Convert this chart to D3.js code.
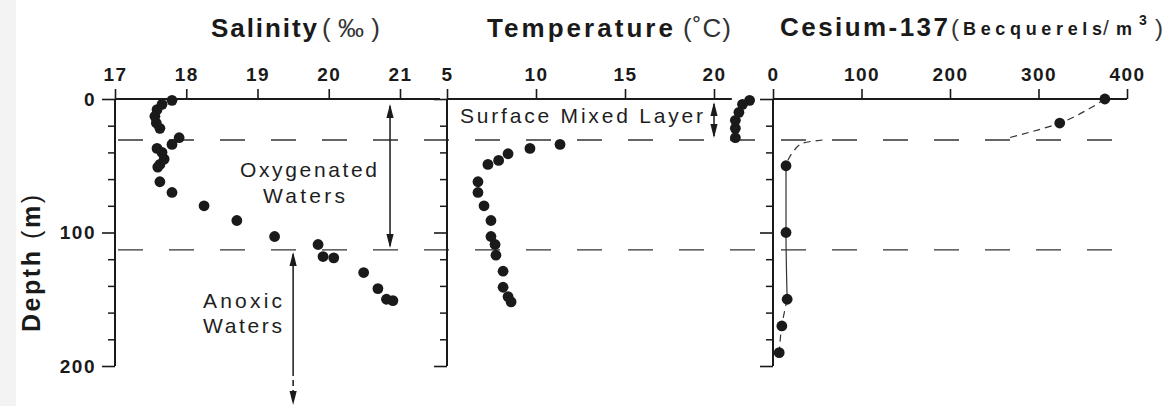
<!DOCTYPE html>
<html><head><meta charset="utf-8">
<script src="https://cdn.jsdelivr.net/npm/d3@7"></script>
<style>body{margin:0;background:#fff}svg{display:block}</style>
</head><body><svg id="c" width="1169" height="406"></svg>
<script>
// ---- data (depth in m, value) ----
const salinity = [[1,17.80],[4,17.66],[8,17.59],[13,17.56],[18,17.58],[22,17.63],[29,17.90],[34,17.80],[37,17.59],[40,17.66],[45,17.69],[49,17.63],[51,17.60],[62,17.63],[70,17.80],[80,18.25],[91,18.71],[103,19.24],[109,19.85],[118,19.92],[119,20.07],[130,20.49],[142,20.69],[150,20.81],[151,20.90]];
const temperature = [[1,22.0],[4,21.6],[10,21.4],[16,21.2],[22,21.2],[29,21.2],[34,11.35],[37,9.66],[41,8.43],[46,7.9],[49,7.3],[62,6.74],[70,6.74],[80,7.08],[91,7.47],[103,7.47],[109,7.7],[117,7.75],[129,8.15],[141,8.15],[148,8.43],[152,8.6]];
const cesium = [[0,375],[18,324],[50,14.7],[100,14.7],[150,16],[170,10],[190,7]];
const cesiumFitTop = [[0,375],[7,358],[18,324],[29,267]];
const cesiumFitKnee = [[30.7,56],[33,34],[39.7,22.6],[45.7,17],[50,14.7]];
const cesiumFitMid = [[50,14.7],[100,14.7],[150,16]];
const cesiumFitLow = [[150,16],[170,10],[190,7]];
const salTicks = [17,18,19,20,21];
const tempTicks = [5,10,15,20];
const csTicks = [0,100,200,300,400];
const depthTicks = [0,100,200];
const depthMinor = [20,40,60,80,120,140,160,180];
const layerBounds = [30.7,113];

const svg = d3.select('#c');
const ink = '#1a1a1a';
const FONT = '"Liberation Sans", Arial, Helvetica, sans-serif';
svg.append('rect').attr('width',1169).attr('height',406).attr('fill','#fff');
svg.append('rect').attr('width',16).attr('height',406).attr('fill','#f3f3f3');

const y = d3.scaleLinear().domain([0,200]).range([99,366]);
const xS = d3.scaleLinear().domain([17,21]).range([115,400]);
const xT = d3.scaleLinear().domain([5,20]).range([447,714]);
const xC = d3.scaleLinear().domain([0,400]).range([773,1127]);

const panels = [
  {x:xS, ticks:salTicks, end:21.56, labels:true},
  {x:xT, ticks:tempTicks, end:21.0, labels:false},
  {x:xC, ticks:csTicks, end:400, labels:false}
];

// dashed layer boundaries
layerBounds.forEach(d=>{
  svg.append('line').attr('x1',118).attr('x2',1118).attr('y1',y(d)).attr('y2',y(d))
    .attr('stroke','#333').attr('stroke-width',1.3).attr('stroke-dasharray','25 26');
});

panels.forEach(p=>{
  const x0 = p.x.range()[0];
  const gt = svg.append('g').attr('transform',`translate(0,${y(0)})`)
    .call(d3.axisTop(p.x).tickValues(p.ticks).tickSize(10).tickPadding(8).tickFormat(d3.format('d')));
  gt.select('.domain').remove();
  gt.selectAll('line').attr('stroke',ink).attr('stroke-width',1.6);
  gt.selectAll('text').attr('fill',ink).style('font-family',FONT).style('font-weight','bold')
    .style('font-size','19px').style('letter-spacing','1.5px');
  svg.append('line').attr('x1',x0).attr('x2',p.x(p.end)).attr('y1',y(0)).attr('y2',y(0))
    .attr('stroke',ink).attr('stroke-width',2);
  const gl = svg.append('g').attr('transform',`translate(${x0},0)`)
    .call(d3.axisLeft(y).tickValues(depthTicks).tickSize(13).tickPadding(6)
      .tickFormat(p.labels ? d3.format('d') : ''));
  gl.select('.domain').remove();
  gl.selectAll('line').attr('stroke',ink).attr('stroke-width',1.6);
  gl.selectAll('text').attr('fill',ink).style('font-family',FONT).style('font-weight','bold')
    .style('font-size','19px').style('letter-spacing','1.5px');
  const gm = svg.append('g').attr('transform',`translate(${x0},0)`)
    .call(d3.axisLeft(y).tickValues(depthMinor).tickSize(7).tickFormat(''));
  gm.select('.domain').remove();
  gm.selectAll('line').attr('stroke',ink).attr('stroke-width',1.5);
  svg.append('line').attr('x1',x0).attr('x2',x0).attr('y1',y(0)).attr('y2',y(200))
    .attr('stroke',ink).attr('stroke-width',2);
});

// cesium fit curve
const cl = d3.line().x(d=>xC(d[1])).y(d=>y(d[0])).curve(d3.curveMonotoneY);
[[cesiumFitTop,'7 5'],[cesiumFitKnee,'7 5'],[cesiumFitMid,null],[cesiumFitLow,'7 5']].forEach(([pts,da])=>{
  svg.append('path').attr('d',cl(pts)).attr('fill','none').attr('stroke','#333')
    .attr('stroke-width',1.2).attr('stroke-dasharray',da);
});

// points
function dots(data,x){
  svg.append('g').selectAll('circle').data(data).join('circle')
    .attr('cx',d=>x(d[1])).attr('cy',d=>y(d[0])).attr('r',5.4).attr('fill',ink);
}
dots(salinity,xS); dots(temperature,xT); dots(cesium,xC);

// arrows
function head(x,tipY,dir){ // dir 1 = pointing down, -1 = up
  const L=14,w=3.6;
  svg.append('path').attr('d',`M${x},${tipY} L${x-w},${tipY-dir*L} L${x+w},${tipY-dir*L} Z`).attr('fill',ink);
}
function vline(x,y1,y2,dash){
  svg.append('line').attr('x1',x).attr('x2',x).attr('y1',y1).attr('y2',y2)
    .attr('stroke',ink).attr('stroke-width',1.5).attr('stroke-dasharray',dash||null);
}
const ox = xS(20.86);
vline(ox,106,246); head(ox,104,-1); head(ox,248,1);
const sx = xT(20);
vline(sx,104,136); head(sx,102,-1); head(sx,138,1);
const ax = xS(19.5);
vline(ax,254,370); vline(ax,370,398,'6 4'); head(ax,252,-1); head(ax,405,1);

// texts
function txt(s,x,yy,opt){
  const t = svg.append('text').attr('x',x).attr('y',yy).text(s).attr('fill',opt.fill||'#1e1e1e')
    .style('font-family',FONT).style('font-size',opt.size+'px').style('font-weight',opt.bold?'bold':'normal')
    .attr('text-anchor',opt.anchor||'start');
  if(opt.len) t.attr('textLength',opt.len).attr('lengthAdjust','spacing');
  return t;
}
txt('Oxygenated',240,177,{size:21,len:137});
txt('Waters',263,203,{size:21,len:82});
txt('Anoxic',203,308,{size:21,len:79});
txt('Waters',203,333,{size:21,len:79});
txt('Surface Mixed Layer',460,123,{size:21,len:243});

// titles
txt('Salinity',211,37,{size:26,bold:true,len:106,fill:ink});
txt('(‰)',322,37,{size:26,len:58,fill:'#333'});
txt('Temperature',487,37,{size:26,bold:true,len:186,fill:ink});
txt('(˚C)',683,37,{size:26,len:48,fill:'#333'});
txt('Cesium-137',780,36,{size:26,bold:true,len:168,fill:ink});
txt('(',951,36,{size:24,fill:'#333'});
txt('Becquerels',963,35,{size:18,bold:true,len:139,fill:ink});
txt('/',1103,35,{size:21,fill:'#333'});
txt('m',1116,35,{size:18,bold:true,len:19,fill:ink});
txt('3',1139,25,{size:14,bold:true,fill:ink});
txt(')',1155,36,{size:24,fill:'#333'});

// depth label
const dl = svg.append('text').attr('transform','translate(40,332) rotate(-90)')
  .attr('fill',ink).style('font-family',FONT).style('font-size','25px')
  .attr('textLength',137).attr('lengthAdjust','spacing');
dl.append('tspan').text('Depth').style('font-weight','bold');
dl.append('tspan').text(' (').style('font-weight','normal');
dl.append('tspan').text('m').style('font-weight','bold');
dl.append('tspan').text(')').style('font-weight','normal');
</script></body></html>
